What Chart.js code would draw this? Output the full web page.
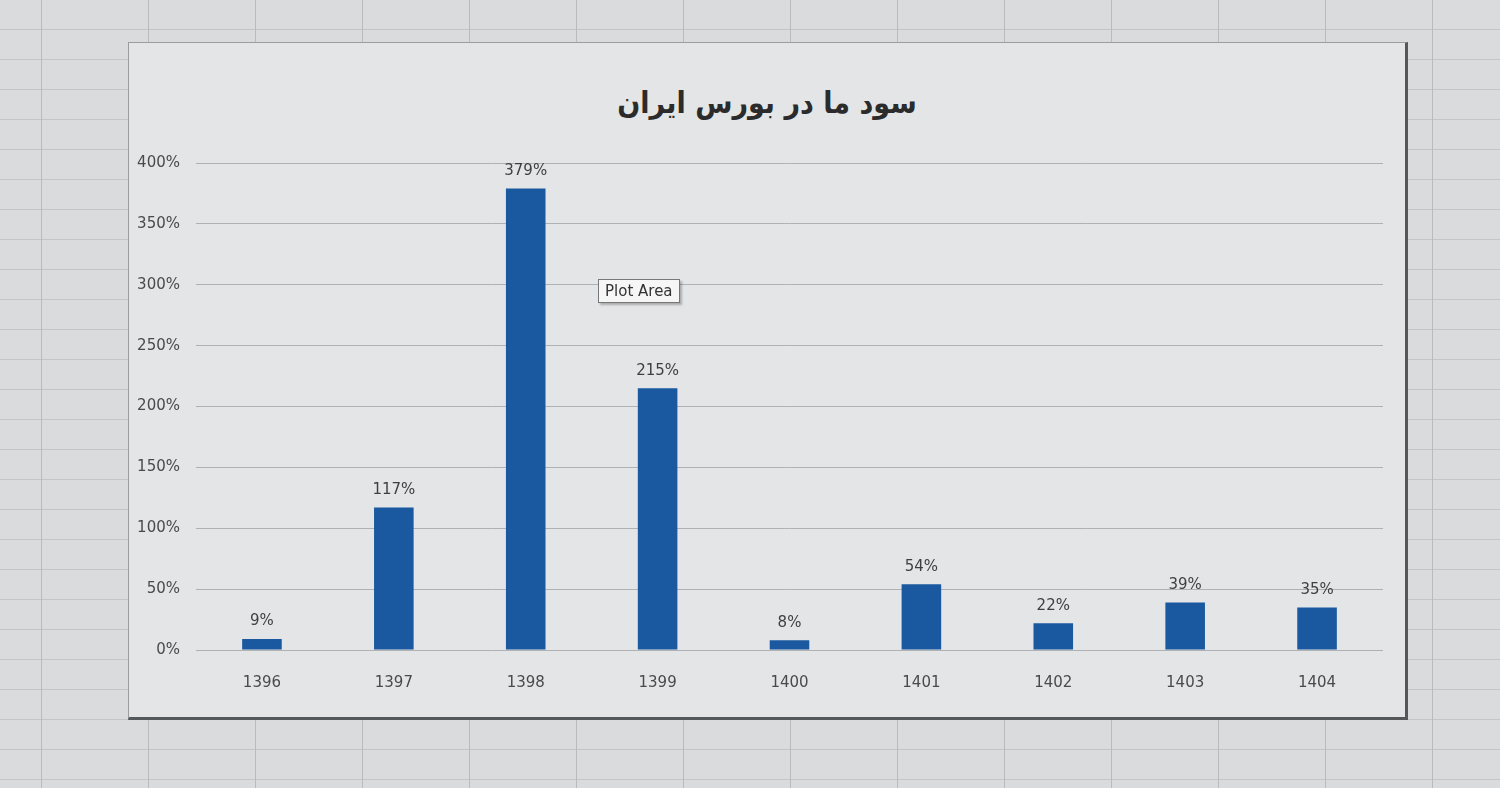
<!DOCTYPE html>
<html lang="fa">
<head>
    <meta charset="UTF-8">
    <title>سود ما در بورس ایران</title>
    <script src="https://cdn.jsdelivr.net/npm/chart.js"></script>
    <style>
        body {
            margin: 0;
            width: 1500px;
            height: 788px;
            overflow: hidden;
            background-color: #d9dbdc;
            background-image:
                repeating-linear-gradient(90deg, transparent 0 41px, #b9bcbd 41px 42px, transparent 42px 107px),
                repeating-linear-gradient(180deg, transparent 0 29px, #c3c6c7 29px 30px);
            font-family: "DejaVu Sans", Arial, sans-serif;
        }

        #box {
            position: absolute;
            left: 128px;
            top: 42px;
            width: 1280px;
            height: 678px;
            background: #e3e5e6;
            border: 1px solid #9a9c9d;
            border-right: 3px solid #55585a;
            border-bottom: 3px solid #55585a;
            box-sizing: border-box;
        }

        #title {
            position: absolute;
            left: 0;
            right: 0;
            top: 42px;
            margin: 0;
            text-align: center;
            font: bold 30px "DejaVu Sans Condensed", "DejaVu Sans", Arial, sans-serif;
            color: #2b2b2b;
        }

        #chart {
            position: absolute;
            left: 0;
            top: 0;
        }

        #tip {
            position: absolute;
            left: 598px;
            top: 279px;
            padding: 2px 6px;
            font: 15px "DejaVu Sans", Arial, sans-serif;
            color: #333;
            background: #f6f6f6;
            border: 1px solid #777;
            box-shadow: 2px 2px 2px rgba(0, 0, 0, 0.25);
        }
    </style>
</head>
<body>
    <div id="box">
        <h1 id="title" dir="rtl">سود ما در بورس ایران</h1>
        <canvas id="chart" width="1276" height="675"></canvas>
    </div>
    <div id="tip">Plot Area</div>

    <script>
        const years = ["1396", "1397", "1398", "1399", "1400", "1401", "1402", "1403", "1404"];
        const profit = [9, 117, 379, 215, 8, 54, 22, 39, 35];
        const yTicks = [0, 50, 100, 150, 200, 250, 300, 350, 400];

        // label above each bar
        const barLabels = {
            id: "barLabels",
            afterDatasetsDraw(chart) {
                const ctx = chart.ctx;
                ctx.save();
                ctx.font = "15px 'DejaVu Sans', Arial, sans-serif";
                ctx.fillStyle = "#3f3f3f";
                ctx.textAlign = "center";
                ctx.textBaseline = "bottom";
                chart.getDatasetMeta(0).data.forEach((bar, i) => {
                    ctx.fillText(profit[i] + "%", bar.x, bar.y - 10);
                });
                ctx.restore();
            }
        };

        new Chart(document.getElementById("chart"), {
            type: "bar",
            data: {
                labels: years,
                datasets: [{
                    data: profit,
                    backgroundColor: "#1a58a0",
                    barPercentage: 0.6,
                    categoryPercentage: 0.5
                }]
            },
            options: {
                responsive: false,
                animation: false,
                layout: { padding: { left: 0, right: 22, top: 120, bottom: 10 } },
                plugins: {
                    legend: { display: false },
                    tooltip: { enabled: false }
                },
                scales: {
                    x: {
                        grid: { display: false },
                        border: { display: false },
                        ticks: {
                            color: "#4a4a4a",
                            padding: 16,
                            font: { family: "'DejaVu Sans', Arial, sans-serif", size: 15 }
                        }
                    },
                    y: {
                        min: 0,
                        max: 400,
                        afterBuildTicks: axis => { axis.ticks = yTicks.map(v => ({ value: v })); },
                        afterFit: axis => { axis.width = 67; },
                        grid: { color: "#afb1b2", drawTicks: false },
                        border: { display: false },
                        ticks: {
                            color: "#4a4a4a",
                            padding: 16,
                            font: { family: "'DejaVu Sans', Arial, sans-serif", size: 15 },
                            callback: v => v + "%"
                        }
                    }
                }
            },
            plugins: [barLabels]
        });
    </script>
</body>
</html>
